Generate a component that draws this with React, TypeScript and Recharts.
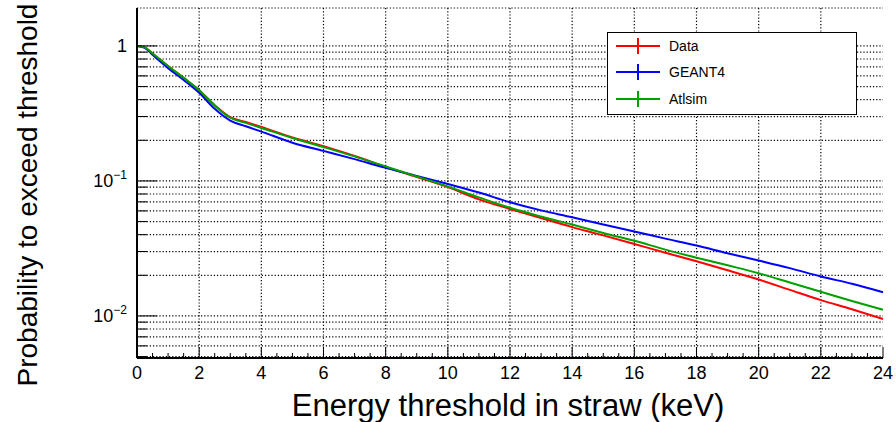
import {
  LineChart,
  Line,
  XAxis,
  YAxis,
  CartesianGrid,
  ReferenceLine,
  Legend,
  Label,
} from "recharts";

const FONT = "'Liberation Sans', Arial, Helvetica, sans-serif";

// energy threshold (keV)
const energy = [0, 0.25, 0.5, 1, 1.5, 2, 2.5, 3, 3.5, 4, 5, 6, 7, 8, 9, 10, 11, 12, 13, 14, 15, 16, 17, 18, 19, 20, 21, 22, 23, 24];

// probability to exceed threshold
const dataVals = [1.0, 0.975, 0.88, 0.71, 0.58, 0.47, 0.364, 0.297, 0.273, 0.251, 0.21, 0.181, 0.153, 0.127, 0.107, 0.09, 0.073, 0.062, 0.053, 0.0455, 0.0395, 0.0341, 0.0294, 0.0254, 0.0218, 0.0186, 0.0156, 0.0131, 0.0112, 0.0095];
const geant4Vals = [1.0, 0.97, 0.86, 0.685, 0.56, 0.45, 0.342, 0.28, 0.254, 0.232, 0.192, 0.167, 0.145, 0.125, 0.109, 0.095, 0.082, 0.0695, 0.0605, 0.0538, 0.0475, 0.0422, 0.0374, 0.0332, 0.0291, 0.0257, 0.0226, 0.0196, 0.0173, 0.015];
const atlsimVals = [1.0, 0.975, 0.88, 0.71, 0.58, 0.47, 0.362, 0.294, 0.269, 0.247, 0.208, 0.178, 0.152, 0.128, 0.108, 0.0908, 0.0755, 0.0633, 0.0545, 0.0475, 0.0412, 0.036, 0.031, 0.027, 0.0237, 0.0207, 0.0177, 0.0151, 0.0129, 0.0111];

const xGridLines = [2, 4, 6, 8, 10, 12, 14, 16, 18, 20, 22];
const xAllTicks = Array.from({ length: 49 }, (_, i) => i * 0.5);
const yTicks = [
  0.005, 0.006, 0.007, 0.008, 0.009,
  0.01, 0.02, 0.03, 0.04, 0.05, 0.06, 0.07, 0.08, 0.09,
  0.1, 0.2, 0.3, 0.4, 0.5, 0.6, 0.7, 0.8, 0.9,
  1,
];
const Y_DOMAIN = [0.00488, 1.91];

const series = [
  { key: "data", name: "Data", color: "#ff0000" },
  { key: "geant4", name: "GEANT4", color: "#0000ff" },
  { key: "atlsim", name: "Atlsim", color: "#00a000" },
];

const rows = energy.map((e, i) => ({
  e,
  data: dataVals[i],
  geant4: geant4Vals[i],
  atlsim: atlsimVals[i],
}));

const isXMajor = (v: number) => Math.abs(v / 2 - Math.round(v / 2)) < 1e-6;
const isDecade = (v: number) => Math.abs(Math.log10(v) - Math.round(Math.log10(v))) < 1e-6;

function BottomTick({ x, y, payload }: any) {
  const v = payload.value;
  const major = isXMajor(v);
  return (
    <g>
      <line x1={x} x2={x} y1={y} y2={y - (major ? 11 : 5)} stroke="#000" strokeWidth={1} />
      {major && (
        <text x={x} y={y + 21} textAnchor="middle" fontSize={18} fontFamily={FONT} fill="#000">
          {v}
        </text>
      )}
    </g>
  );
}

function TopTick({ x, y, payload }: any) {
  const major = isXMajor(payload.value);
  return <line x1={x} x2={x} y1={y} y2={y + (major ? 11 : 5)} stroke="#000" strokeWidth={1} />;
}

function LeftTick({ x, y, payload }: any) {
  const v = payload.value;
  const major = isDecade(v);
  const exp = Math.round(Math.log10(v));
  return (
    <g>
      <line x1={x} x2={x + (major ? 20 : 10)} y1={y} y2={y} stroke="#000" strokeWidth={1} />
      {major && (
        <text x={x - 10} y={y + 6.5} textAnchor="end" fontSize={18} fontFamily={FONT} fill="#000">
          {exp === 0 ? (
            "1"
          ) : (
            <>
              10
              <tspan fontSize={12} dy={-8}>{`\u2212${-exp}`}</tspan>
            </>
          )}
        </text>
      )}
    </g>
  );
}

function RightTick({ x, y, payload }: any) {
  const major = isDecade(payload.value);
  return <line x1={x} x2={x - (major ? 20 : 10)} y1={y} y2={y} stroke="#000" strokeWidth={1} />;
}

function LegendBox() {
  return (
    <div
      style={{
        width: 250,
        height: 83,
        boxSizing: "border-box",
        border: "1px solid #000",
        background: "#fff",
        fontFamily: FONT,
        fontSize: 14,
        color: "#000",
        paddingTop: 0,
      }}
    >
      {series.map((s) => (
        <div key={s.key} style={{ display: "flex", alignItems: "center", height: 27.5, marginTop: -1 }}>
          <svg width={60} height={20} style={{ display: "block" }}>
            <line x1={8} x2={52} y1={10} y2={10} stroke={s.color} strokeWidth={2} />
            <line x1={30} x2={30} y1={2} y2={18} stroke={s.color} strokeWidth={2} />
          </svg>
          <span style={{ marginLeft: 1 }}>{s.name}</span>
        </div>
      ))}
    </div>
  );
}

export default function App() {
  return (
    <div style={{ position: "absolute", left: 0, top: 0, background: "#fff" }}>
      <LineChart width={896} height={422} data={rows} margin={{ top: 8, right: 13, bottom: 0, left: 0 }}>
        <XAxis
          xAxisId="bottom"
          dataKey="e"
          type="number"
          domain={[0, 24]}
          ticks={xAllTicks}
          interval={0}
          height={64}
          tickSize={0}
          tickMargin={0}
          tickLine={false}
          axisLine={{ stroke: "#000", strokeWidth: 2 }}
          tick={<BottomTick />}
        >
          <Label
            content={({ viewBox }: any) => (
              <text
                x={viewBox.x + viewBox.width / 2 - 2}
                y={416}
                textAnchor="middle"
                fontSize={31}
                fontFamily={FONT}
                fill="#000"
              >
                Energy threshold in straw (keV)
              </text>
            )}
          />
        </XAxis>
        <XAxis
          xAxisId="top"
          dataKey="e"
          type="number"
          orientation="top"
          domain={[0, 24]}
          ticks={xAllTicks}
          interval={0}
          height={0}
          tickSize={0}
          tickMargin={0}
          tickLine={false}
          axisLine={{ stroke: "#000", strokeWidth: 2 }}
          tick={<TopTick />}
        />
        <YAxis
          yAxisId="left"
          type="number"
          scale="log"
          domain={Y_DOMAIN}
          allowDataOverflow
          ticks={yTicks}
          interval={0}
          width={137}
          tickSize={0}
          tickMargin={0}
          tickLine={false}
          axisLine={{ stroke: "#000", strokeWidth: 2 }}
          tick={<LeftTick />}
        >
          <Label
            content={() => (
              <text
                transform="translate(37,195) rotate(-90)"
                textAnchor="middle"
                fontSize={28}
                fontFamily={FONT}
                fill="#000"
              >
                Probability to exceed threshold
              </text>
            )}
          />
        </YAxis>
        <YAxis
          yAxisId="right"
          orientation="right"
          type="number"
          scale="log"
          domain={Y_DOMAIN}
          allowDataOverflow
          ticks={yTicks}
          interval={0}
          width={0}
          tickSize={0}
          tickMargin={0}
          tickLine={false}
          axisLine={{ stroke: "#000", strokeWidth: 2 }}
          tick={<RightTick />}
        />
        <CartesianGrid
          xAxisId="bottom"
          yAxisId="left"
          vertical={false}
          stroke="#000"
          strokeWidth={1.2}
          strokeDasharray="1.2 2"
        />
        {xGridLines.map((v) => (
          <ReferenceLine
            key={v}
            xAxisId="bottom"
            yAxisId="left"
            x={v}
            stroke="#000"
            strokeWidth={1.2}
            strokeDasharray="1.2 2"
          />
        ))}
        {series.map((s) => (
          <Line
            key={s.key}
            xAxisId="bottom"
            yAxisId="left"
            type="monotone"
            dataKey={s.key}
            name={s.name}
            stroke={s.color}
            strokeWidth={2}
            dot={false}
            isAnimationActive={false}
          />
        ))}
        <Legend
          layout="horizontal"
          verticalAlign="middle"
          align="center"
          content={() => <LegendBox />}
          wrapperStyle={{ left: 607, top: 32, width: 250 }}
        />
      </LineChart>
    </div>
  );
}
